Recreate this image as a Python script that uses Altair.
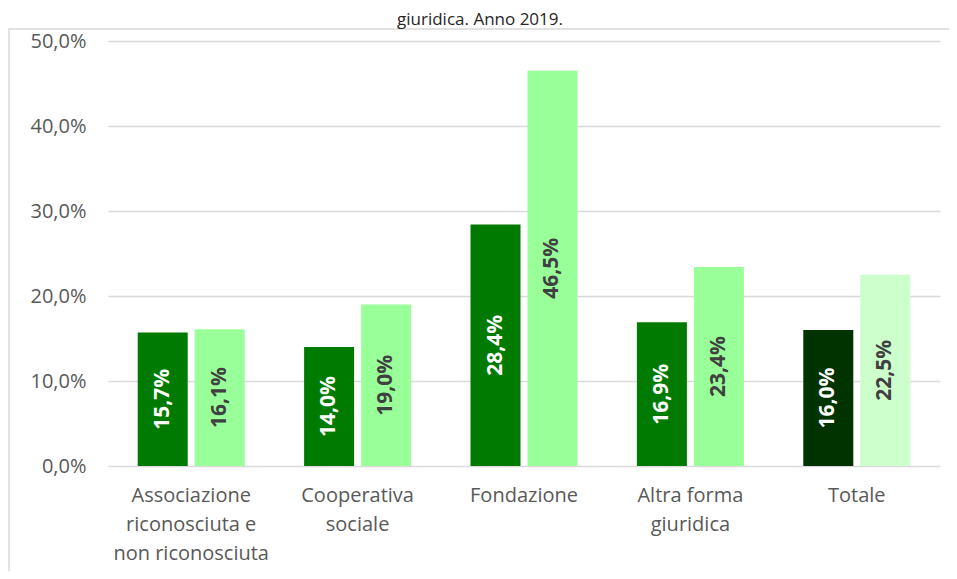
import altair as alt
import pandas as pd

categorie = [
    "Associazione riconosciuta e non riconosciuta",
    "Cooperativa sociale",
    "Fondazione",
    "Altra forma giuridica",
    "Totale",
]
righe_etichette = [
    ["Associazione", "riconosciuta e", "non riconosciuta"],
    ["Cooperativa", "sociale"],
    ["Fondazione"],
    ["Altra forma", "giuridica"],
    ["Totale"],
]
serie = ["Serie 1", "Serie 2"]
valori_serie_1 = [15.7, 14.0, 28.4, 16.9, 16.0]
valori_serie_2 = [16.1, 19.0, 46.5, 23.4, 22.5]
tick_valori = [0, 10, 20, 30, 40, 50]
titolo = "giuridica. Anno 2019."

rows = []
for c, v1, v2 in zip(categorie, valori_serie_1, valori_serie_2):
    for s, v in zip(serie, [v1, v2]):
        gruppo = "tot" if c == "Totale" else "cat"
        rows.append({"cat": c, "serie": s, "val": v, "key": f"{s}|{gruppo}"})
df = pd.DataFrame(rows)

color_domain = ["Serie 1|cat", "Serie 2|cat", "Serie 1|tot", "Serie 2|tot"]
color_range = ["#007A00", "#99FF99", "#003300", "#CCFFCC"]

label_map = "{" + ",".join(
    f"'{c}':[" + ",".join(f"'{l}'" for l in lines) + "]"
    for c, lines in zip(categorie, righe_etichette)
) + "}"

FONT = "Open Sans"
W, H = 832, 425

base = alt.Chart(df).encode(
    x=alt.X(
        "cat:N",
        sort=categorie,
        scale=alt.Scale(paddingInner=0.357, paddingOuter=0.1785),
        axis=alt.Axis(
            title=None,
            labelExpr=label_map + "[datum.label]",
            labelFontSize=20,
            labelColor="#595959",
            labelFont=FONT,
            labelPadding=19,
            labelLineHeight=29,
            labelAngle=0,
            labelBaseline="top",
            ticks=False,
            domain=False,
        ),
    ),
    xOffset=alt.XOffset(
        "serie:N", sort=serie, scale=alt.Scale(paddingInner=0.1228, paddingOuter=0)
    ),
)

bars = base.mark_bar().encode(
    y=alt.Y(
        "val:Q",
        scale=alt.Scale(domain=[0, 50], nice=False),
        axis=alt.Axis(
            title=None,
            values=tick_valori,
            labelExpr="replace(format(datum.value,'.1f'),'.',',')+'%'",
            labelFontSize=20,
            labelColor="#595959",
            labelFont=FONT,
            labelPadding=22,
            ticks=False,
            domain=False,
            grid=True,
            gridColor="#D9D9D9",
            gridWidth=1.5,
        ),
    ),
    color=alt.Color(
        "key:N", scale=alt.Scale(domain=color_domain, range=color_range), legend=None
    ),
)

labels = (
    base.transform_calculate(
        mid="datum.val / 2",
        lab="replace(format(datum.val,'.1f'),'.',',') + '%'",
    )
    .mark_text(
        angle=270,
        fontWeight="bold",
        fontSize=21,
        font=FONT,
        align="center",
        baseline="middle",
    )
    .encode(
        y=alt.Y("mid:Q"),
        text="lab:N",
        color=alt.condition(
            alt.datum.serie == "Serie 1", alt.value("white"), alt.value("#404040")
        ),
    )
)

frame = alt.Chart(pd.DataFrame({"a": [0]})).mark_rect(
    fill=None, stroke="#D9D9D9", strokeWidth=1.5
).encode(
    x=alt.value(-99), x2=alt.value(W + 40), y=alt.value(-12), y2=alt.value(H + 140)
)

title = alt.Chart(pd.DataFrame({"t": [titolo]})).mark_text(
    font=FONT, fontSize=17, color="#262626", align="center", baseline="alphabetic"
).encode(x=alt.value(372), y=alt.value(-16), text="t:N")

chart = (
    alt.layer(frame, bars, labels, title)
    .properties(
        width=W,
        height=H,
        autosize=alt.AutoSizeParams(type="none"),
        padding={"left": 100, "top": 33, "right": 9, "bottom": 105},
    )
    .configure_view(stroke=None)
)

chart.save("out.html", embed_options={"renderer": "svg", "actions": False})
